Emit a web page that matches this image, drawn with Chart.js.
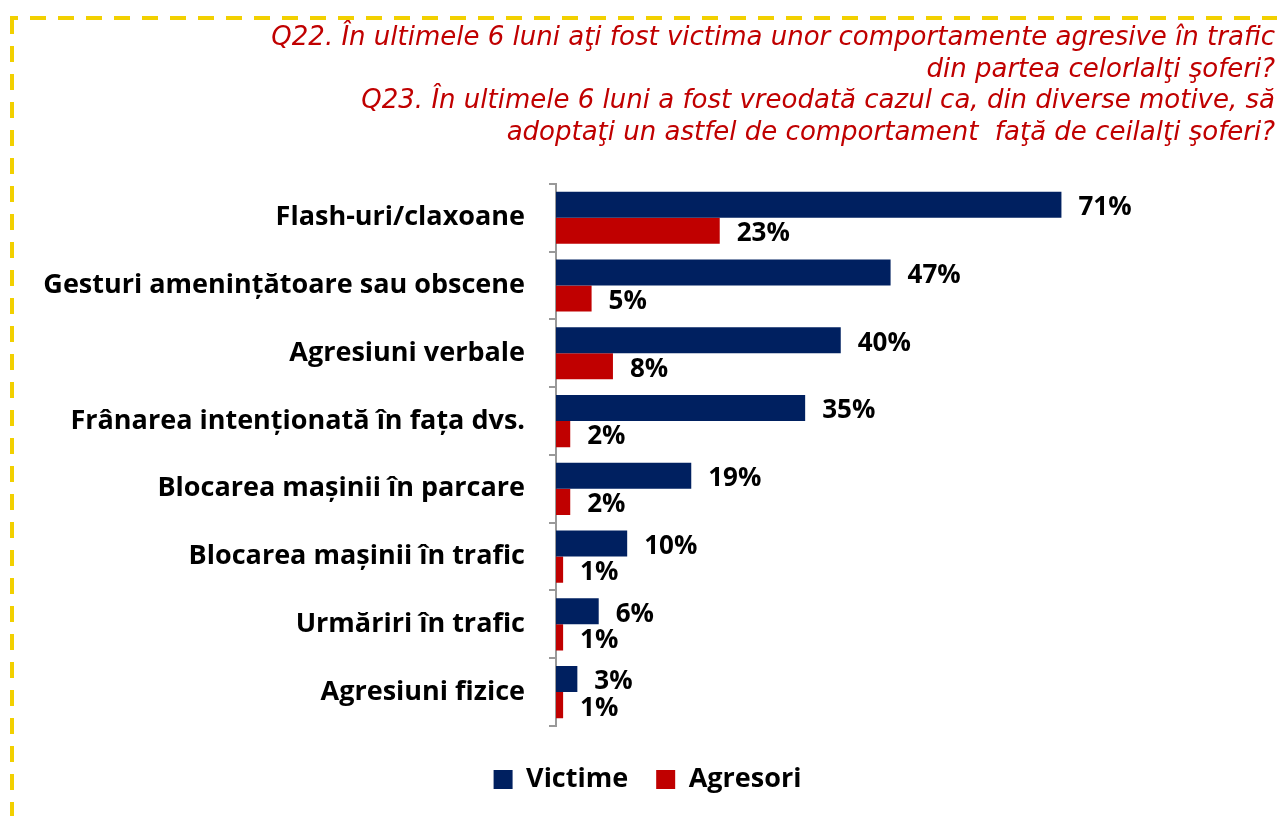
<!DOCTYPE html>
<html>
<head>
<meta charset="utf-8">
<script src="https://cdn.jsdelivr.net/npm/chart.js@4"></script>
<style>
  html, body { margin: 0; padding: 0; background: #fff; }
  #wrap { width: 1277px; height: 816px; position: relative; }
</style>
</head>
<body>
<div id="wrap"><canvas id="myChart"></canvas></div>
<script>
"use strict";

//--------------------DATA

const categories = [
  "Flash-uri/claxoane",
  "Gesturi amenințătoare sau obscene",
  "Agresiuni verbale",
  "Frânarea intenționată în fața dvs.",
  "Blocarea mașinii în parcare",
  "Blocarea mașinii în trafic",
  "Urmăriri în trafic",
  "Agresiuni fizice",
];
const victime = [71, 47, 40, 35, 19, 10, 6, 3];
const agresori = [23, 5, 8, 2, 2, 1, 1, 1];
const seriesNames = ["Victime", "Agresori"];
const titleLines = [
  "Q22. În ultimele 6 luni aţi fost victima unor comportamente agresive în trafic",
  "din partea celorlalţi şoferi?",
  "Q23. În ultimele 6 luni a fost vreodată cazul ca, din diverse motive, să",
  "adoptaţi un astfel de comportament  faţă de ceilalţi şoferi?",
];

const BLUE = "#002060";
const RED = "#C00000";
const LABEL_FONT = "'Open Sans', Lato, sans-serif";

//--------------------PLUGINS

// dashed yellow frame round the slide
const framePlugin = {
  id: "frame",
  beforeDraw(chart) {
    const ctx = chart.ctx;
    ctx.save();
    ctx.strokeStyle = "#F2D000";
    ctx.lineWidth = 4;
    ctx.setLineDash([16, 12]);
    ctx.lineDashOffset = 10;
    ctx.strokeRect(12, 18, chart.width + 40, chart.height + 40);
    ctx.restore();
  },
};

// value labels right of each bar
const valueLabels = {
  id: "valueLabels",
  afterDatasetsDraw(chart) {
    const ctx = chart.ctx;
    ctx.save();
    ctx.font = "bold 26px " + LABEL_FONT;
    ctx.fillStyle = "#000";
    ctx.textAlign = "left";
    ctx.textBaseline = "middle";
    chart.data.datasets.forEach((ds, i) => {
      chart.getDatasetMeta(i).data.forEach((bar, j) => {
        ctx.fillText(ds.data[j] + "%", bar.x + 17, bar.y + 3);
      });
    });
    ctx.restore();
  },
};

//--------------------CHART

const ctx = document.getElementById("myChart").getContext("2d");
const myChart = new Chart(ctx, {
  type: "bar",
  data: {
    labels: categories,
    datasets: [
      { label: seriesNames[0], data: victime, backgroundColor: BLUE },
      { label: seriesNames[1], data: agresori, backgroundColor: RED },
    ],
  },
  options: {
    indexAxis: "y",
    responsive: true,
    maintainAspectRatio: false,
    animation: false,
    layout: { padding: { top: 23, right: 2, bottom: 13, left: 20 } },
    datasets: { bar: { categoryPercentage: 0.77, barPercentage: 1 } },
    scales: {
      x: {
        min: 0,
        max: 101,
        // hidden axis, only keeps a gap above the legend
        ticks: { display: false },
        grid: { display: false },
        border: { display: false },
        afterFit(scale) {
          scale.height = 12;
        },
      },
      y: {
        afterFit(scale) {
          scale.width = 536;
        },
        border: { color: "#999", width: 2 },
        grid: {
          offset: true,
          drawOnChartArea: false,
          color: "#999",
          lineWidth: 2,
          tickLength: 7,
        },
        ticks: {
          color: "#000",
          padding: 24,
          font: { family: LABEL_FONT, size: 27, weight: "bold" },
        },
      },
    },
    plugins: {
      title: {
        display: true,
        text: titleLines,
        align: "end",
        color: RED,
        font: { family: "'DejaVu Sans'", size: 26, style: "italic", weight: "normal", lineHeight: 1.21 },
        padding: { top: 0, bottom: 35 },
      },
      legend: {
        position: "bottom",
        labels: {
          color: "#000",
          boxWidth: 19,
          boxHeight: 19,
          padding: 28,
          font: { family: LABEL_FONT, size: 27, weight: "bold" },
        },
      },
      tooltip: { enabled: false },
    },
  },
  plugins: [framePlugin, valueLabels],
});
</script>
</body>
</html>
